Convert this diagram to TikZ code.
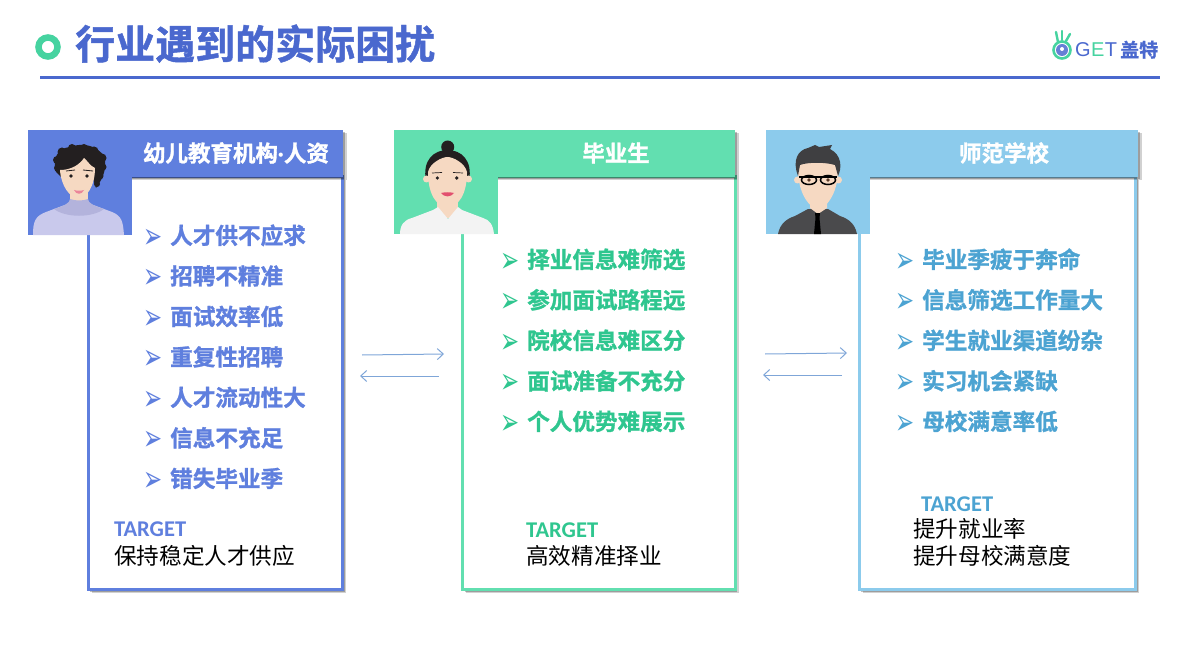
\documentclass[tikz,border=0pt]{standalone}
\usepackage{fontspec}
\setmainfont{Noto Sans CJK SC}
\newfontfamily\cjk[BoldFont={Noto Sans CJK SC Bold}, BoldFeatures={FakeBold=1.2}]{Noto Sans CJK SC}
\newfontfamily\latinfont{Carlito}
\newfontfamily\symfont{DejaVu Sans}
\newfontfamily\logofont{Liberation Sans}
\usetikzlibrary{arrows.meta, shadows, shapes.geometric}
\definecolor{titleblue}{HTML}{4A68CE}
\definecolor{cardblue}{HTML}{5F7FDE}
\definecolor{cardgreen}{HTML}{62DFB0}
\definecolor{cardsky}{HTML}{8CCBEC}
\definecolor{textgreen}{HTML}{2FC68F}
\definecolor{textsky}{HTML}{4CA3D2}
\definecolor{ringgreen}{HTML}{46D3A0}
\definecolor{arrowblue}{HTML}{7FA6D8}
\definecolor{skin}{HTML}{F6D9C2}
\definecolor{hairdark}{HTML}{231F20}
\definecolor{sweater}{HTML}{C9C9EC}
\definecolor{collar}{HTML}{B3B3DC}
\definecolor{lipred}{HTML}{E2506F}
\definecolor{shirtwhite}{HTML}{F3F3F3}
\definecolor{suitgray}{HTML}{4A4A4C}
\definecolor{hairgray}{HTML}{3F3F41}
\definecolor{eyebrown}{HTML}{5A3A28}
\newcommand{\markglyph}{\scalebox{1.2}[1.9]{➢}}
\tikzset{
  softshadow/.style={
    general shadow={shadow xshift=3.5pt, shadow yshift=-3.5pt, opacity=.18, fill=black},
    general shadow={shadow xshift=2pt, shadow yshift=-2pt, opacity=.25, fill=black}},
  framebox/.style={draw=#1, line width=3pt, fill=white, anchor=north west, inner sep=0pt, outer sep=0pt, softshadow},
  headbox/.style={fill=#1, anchor=north west, inner sep=0pt, outer sep=0pt, softshadow},
  photobox/.style={fill=#1, anchor=north west, inner sep=0pt, outer sep=0pt, minimum width=104pt},
  headtext/.style={text=white, font=\cjk\bfseries\fontsize{22.5}{24}\selectfont, inner sep=0pt},
  itemtext/.style={text=#1, font=\cjk\bfseries\fontsize{22.6}{24}\selectfont, anchor=base west, inner sep=0pt},
  bullet/.style={text=#1, font=\symfont\fontsize{19}{20}\selectfont, anchor=base west, inner sep=0pt},
  targettext/.style={text=#1, font=\latinfont\bfseries\fontsize{22.5}{24}\selectfont, anchor=base west, inner sep=0pt},
  goaltext/.style={text=black, font=\cjk\fontsize{22.6}{24}\selectfont, anchor=base west, inner sep=0pt},
  linkarrow/.style={draw=arrowblue, line width=1pt, -{Straight Barb[length=6pt,width=11pt]}},
}
\begin{document}
\begin{tikzpicture}[x=1pt, y=-1pt]
  \useasboundingbox (0,0) rectangle (1185,663);
  % title
  \draw[ringgreen, line width=6.5pt] (48,47) circle (9.5);
  \node[text=titleblue, font=\cjk\bfseries\fontsize{40}{44}\selectfont, anchor=base west, inner sep=0pt] (title) at (75,59) {行业遇到的实际困扰};
  \coordinate (ruleL) at (40,78);
  \coordinate (ruleR) at (1160,78);
  \draw[titleblue, line width=3pt] (ruleL) -- (ruleR);
  % logo
  \draw[ringgreen, line width=2.4pt, line cap=round] (1058,42) -- (1056,32);
  \draw[ringgreen, line width=2.4pt, line cap=round] (1062,40) -- (1062,31);
  \draw[ringgreen, line width=2.4pt, line cap=round] (1066,41) -- (1070,34);
  \draw[ringgreen, line width=2.6pt] (1062,50) circle (8.5);
  \fill[titleblue!85] (1062,50) circle (6);
  \fill[white] (1062,49) circle (2);
  \node[font=\logofont\fontsize{20}{20}\selectfont, anchor=base west, inner sep=0pt, text=titleblue] (logoG) at (1075,57) {G};
  \node[font=\logofont\fontsize{20}{20}\selectfont, anchor=base west, inner sep=0pt, text=ringgreen] (logoE) at (logoG.base east) {E};
  \node[font=\logofont\fontsize{20}{20}\selectfont, anchor=base west, inner sep=0pt, text=titleblue] (logoT) at (logoE.base east) {T};
  \node[font=\cjk\bfseries\fontsize{19}{20}\selectfont, anchor=base west, inner sep=0pt, text=titleblue] (logoName) at (1120,57) {盖特};

  % left card
  \node[framebox=cardblue, minimum width=254.5pt, minimum height=412.5pt] (frameHr) at (88,177) {};
  \node[headbox=cardblue, minimum width=315pt, minimum height=47pt] (headHr) at (28,130) {};
  \node[headtext, anchor=center] (nameHr) at (236,153) {幼儿教育机构{\latinfont\bfseries ·}人资};
  \node[photobox=cardblue, minimum height=105pt] (photoHr) at (28,130) {};
  \begin{scope}
    \clip (28,130) rectangle (132,235);
    \fill[hairdark] (56,172) .. controls (52,158) and (58,148) .. (70,147) .. controls (80,143) and (92,145) .. (98,150) .. controls (108,156) and (108,172) .. (96,188) -- (90,170) -- (62,178) -- cycle;
    \foreach \hx/\hy/\hr in {58/168/4, 57/160/4, 62/152/4.5, 72/148/4, 84/148/4, 94/151/4.5, 102/158/4.5, 103/167/3.5, 100/176/3.5, 97/184/3} {
      \fill[hairdark] (\hx,\hy) circle (\hr);
    }
    \fill[skin] (70,185) rectangle (88,204);
    \fill[skin] (60,170) .. controls (61,186) and (70,198) .. (78,198) .. controls (87,198) and (95,186) .. (95,168) .. controls (90,166) and (87,160) .. (84,158) .. controls (80,164) and (72,170) .. (60,170) -- cycle;
    \fill[hairdark] (71,176) circle (1.8);
    \fill[hairdark] (87,176) circle (1.8);
    \draw[hairdark, line width=.8pt] (66,171) -- (75,170);
    \draw[hairdark, line width=.8pt] (83,170) -- (93,171);
    \fill[lipred!70] (74,190) .. controls (77,191) and (81,191) .. (84,190) .. controls (82,195) and (76,195) .. (74,190) -- cycle;
    \fill[sweater] (33,235) .. controls (33,222) and (35,216) .. (46,212) -- (70,203) -- (88,203) -- (112,212) .. controls (122,216) and (123,222) .. (124,235) -- cycle;
    \fill[collar] (54,209) .. controls (64,206) and (70,203) .. (70,199) .. controls (76,201) and (82,201) .. (88,199) .. controls (88,203) and (94,206) .. (104,209) .. controls (92,218) and (66,218) .. (54,209) -- cycle;
  \end{scope}
  \foreach \txt [count=\i] in {人才供不应求, 招聘不精准, 面试效率低, 重复性招聘, 人才流动性大, 信息不充足, 错失毕业季} {
    \node[bullet=cardblue] (markHr\i) at (143,{248+40.5*(\i-1)}) {\markglyph};
    \node[itemtext=cardblue] (itemHr\i) at (170,{244+40.5*(\i-1)}) {\txt};
  }
  \node[targettext=cardblue] (targetHr) at (114,536) {TARGET};
  \node[goaltext] (goalHr) at (114,564) {保持稳定人才供应};

  % middle card
  \node[framebox=cardgreen, minimum width=272.5pt, minimum height=412.5pt] (frameGrad) at (462.5,177) {};
  \node[headbox=cardgreen, minimum width=341pt, minimum height=47pt] (headGrad) at (394,130) {};
  \node[headtext, anchor=center] (nameGrad) at (616,153) {毕业生};
  \node[photobox=cardgreen, minimum height=104pt] (photoGrad) at (394,130) {};
  \begin{scope}
    \clip (394,130) rectangle (498,234);
    \fill[hairdark] (447.7,147) circle (6.5);
    \fill[hairdark] (426,181) .. controls (422,160) and (434,150) .. (447.5,150) .. controls (461,150) and (473,160) .. (469,181) -- cycle;
    \fill[skin] (426.5,179) circle (3.5);
    \fill[skin] (468.5,179) circle (3.5);
    \fill[skin] (437,195) rectangle (458,218);
    \fill[skin] (428,172) .. controls (428,195) and (437,207) .. (447.5,207) .. controls (458,207) and (467,195) .. (467,172) .. controls (465,163) and (453,157) .. (447.5,157) .. controls (442,157) and (430,163) .. (428,172) -- cycle;
    \fill[hairdark] (437.3,178) circle (1.8);
    \fill[hairdark] (456.7,178) circle (1.8);
    \draw[hairdark, line width=.7pt] (432,173) -- (442,172.5);
    \draw[hairdark, line width=.7pt] (453,172.5) -- (463,173);
    \fill[lipred] (441,193) .. controls (445,192) and (450,192) .. (454,193) .. controls (451,197.5) and (444,197.5) .. (441,193) -- cycle;
    \fill[shirtwhite] (400,234) .. controls (400,225) and (404,220) .. (412,218) -- (433,210) -- (438,207) -- (448,219) -- (458,207) -- (462,210) -- (483,218) .. controls (490,220) and (493,225) .. (494,234) -- cycle;
  \end{scope}
  \foreach \txt [count=\i] in {择业信息难筛选, 参加面试路程远, 院校信息难区分, 面试准备不充分, 个人优势难展示} {
    \node[bullet=textgreen] (markGrad\i) at (500,{272+40.5*(\i-1)}) {\markglyph};
    \node[itemtext=textgreen] (itemGrad\i) at (527,{268+40.5*(\i-1)}) {\txt};
  }
  \node[targettext=textgreen] (targetGrad) at (526,537) {TARGET};
  \node[goaltext] (goalGrad) at (526,564) {高效精准择业};

  % right card
  \node[framebox=cardsky, minimum width=276.5pt, minimum height=412.5pt] (frameSchool) at (859,177) {};
  \node[headbox=cardsky, minimum width=372pt, minimum height=47pt] (headSchool) at (766,130) {};
  \node[headtext, anchor=center] (nameSchool) at (1004,153) {师范学校};
  \node[photobox=cardsky, minimum height=104pt] (photoSchool) at (766,130) {};
  \begin{scope}
    \clip (766,130) rectangle (870,234);
    \fill[suitgray] (778,234) .. controls (780,224) and (786,219) .. (795,216) -- (808,209) -- (828,209) -- (840,216) .. controls (849,219) and (855,224) .. (857,234) -- cycle;
    \fill[skin] (810,195) -- (827,195) -- (827,208) -- (818,214) -- (810,208) -- cycle;
    \fill[skin] (797.5,180) circle (3.5);
    \fill[skin] (838.5,180) circle (3.5);
    \fill[skin] (798,158) .. controls (796,190) and (806,204) .. (818,211) .. controls (830,204) and (840,190) .. (838,158) -- cycle;
    \fill[hairgray] (798,176) .. controls (792,160) and (798,150) .. (808,148) -- (815,145) -- (819,147) -- (832,145) -- (830,149) .. controls (842,155) and (842,168) .. (838,176) -- (835,165) .. controls (825,162) and (808,162) .. (800,165) -- cycle;
    \draw[black, line width=1.5pt] (809,180) ellipse (7.5 and 4.5);
    \draw[black, line width=1.5pt] (828,180) ellipse (7.5 and 4.5);
    \draw[black, line width=1.8pt] (799,177) -- (837,177);
    \fill[eyebrown] (809,180) circle (1.8);
    \fill[eyebrown] (828,180) circle (1.8);
    \fill[black] (815,213) -- (820,213) -- (819.5,218) -- (821,234) -- (814,234) -- (815.5,218) -- cycle;
  \end{scope}
  \foreach \txt [count=\i] in {毕业季疲于奔命, 信息筛选工作量大, 学生就业渠道纷杂, 实习机会紧缺, 母校满意率低} {
    \node[bullet=textsky] (markSchool\i) at (895,{272+40.5*(\i-1)}) {\markglyph};
    \node[itemtext=textsky] (itemSchool\i) at (922,{268+40.5*(\i-1)}) {\txt};
  }
  \node[targettext=textsky] (targetSchool) at (921,511) {TARGET};
  \node[goaltext] (goalSchool) at (913,537) {提升就业率};
  \node[goaltext] (goalSchoolB) at (913,564) {提升母校满意度};

  % arrows between cards
  \coordinate (hrOut) at (362,355);
  \coordinate (gradIn) at (444,354);
  \coordinate (gradOut) at (439,376);
  \coordinate (hrIn) at (360,376);
  \coordinate (gradOutB) at (765,354);
  \coordinate (schoolIn) at (847,353);
  \coordinate (schoolOut) at (842,375);
  \coordinate (gradInB) at (763,375);
  \draw[linkarrow] (hrOut) -- (gradIn);
  \draw[linkarrow] (gradOut) -- (hrIn);
  \draw[linkarrow] (gradOutB) -- (schoolIn);
  \draw[linkarrow] (schoolOut) -- (gradInB);
\end{tikzpicture}
\end{document}
